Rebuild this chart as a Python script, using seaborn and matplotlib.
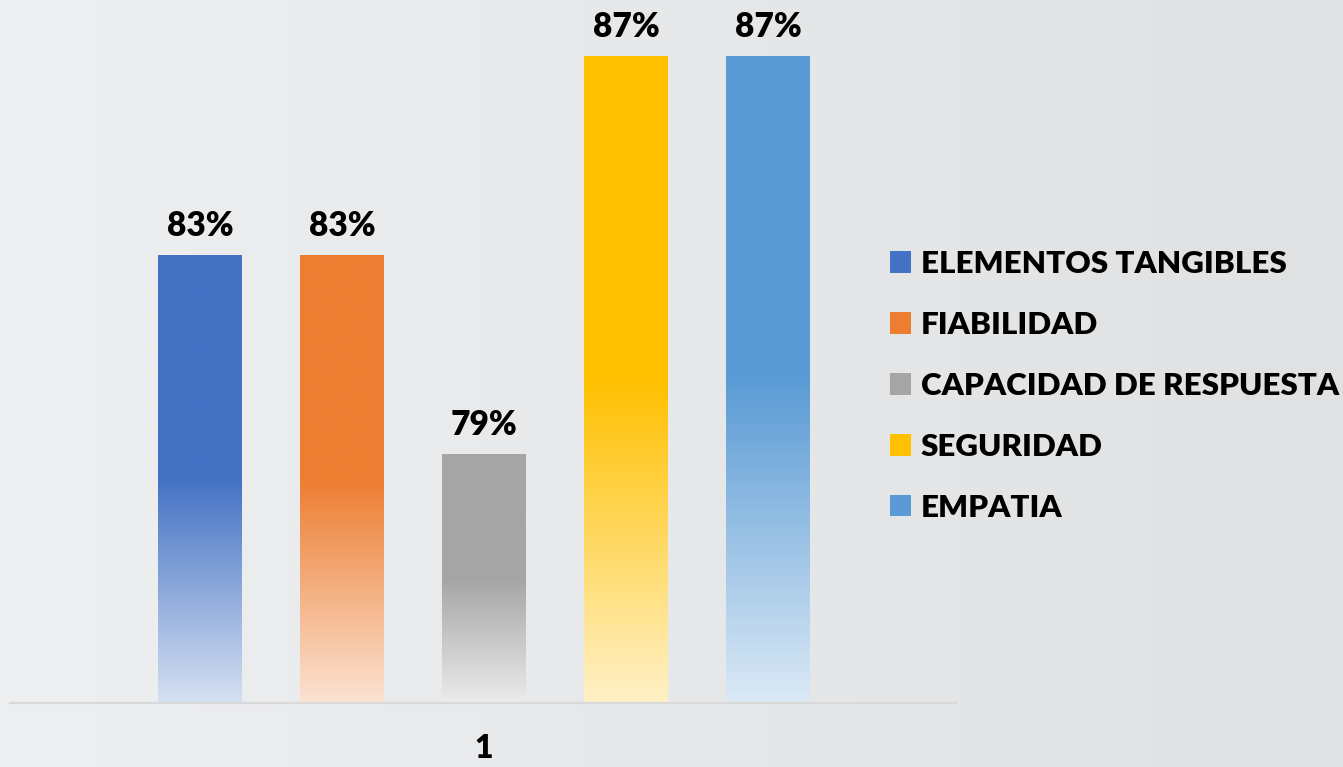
import numpy as np
import pandas as pd
import matplotlib
matplotlib.use("Agg")
import matplotlib.pyplot as plt
from matplotlib.colors import to_rgb
from matplotlib.patches import Patch
import seaborn as sns

# datos del grafico
categorias = ["ELEMENTOS TANGIBLES", "FIABILIDAD", "CAPACIDAD DE RESPUESTA", "SEGURIDAD", "EMPATIA"]
valores = [0.83, 0.83, 0.79, 0.87, 0.87]
grupo = ["1"] * 5
colores = ["#4472C4", "#ED7D31", "#A5A5A5", "#FFC000", "#5B9BD5"]

df = pd.DataFrame({"grupo": grupo, "dimension": categorias, "valor": valores})

sns.set_style("white")
plt.rcParams["font.family"] = ["Lato", "DejaVu Sans"]
plt.rcParams["font.weight"] = "heavy"
plt.rcParams["text.color"] = "black"
plt.rcParams["xtick.color"] = "black"

fig = plt.figure(figsize=(13.43, 7.67), dpi=100)

# fondo degradado
bg = fig.add_axes([0, 0, 1, 1], zorder=-1)
izq = np.array([238, 239, 241]) / 255
der = np.array([223, 225, 227]) / 255
t = np.linspace(0, 1, 256)
grad = izq[None, :] * (1 - t[:, None]) + der[None, :] * t[:, None]
bg.imshow(grad[None, :, :], aspect="auto", extent=(0, 1, 0, 1))
bg.axis("off")

ymin = 0.74
ax = fig.add_axes([10 / 1343, 64 / 767, 947 / 1343, 703 / 767])
ax.set_facecolor("none")
sns.barplot(data=df, x="grupo", y="valor", hue="dimension", palette=colores,
            gap=0.41, ax=ax, legend=False, zorder=2)
ax.set_ylim(ymin, ymin + 703 / 4975)
ax.set_xlim(-0.534, 0.533)

# barras con degradado (solido arriba, claro abajo)
for p, c in zip(ax.patches, colores):
    x, w, h = p.get_x(), p.get_width(), p.get_height()
    rgb = np.array(to_rgb(c))
    claro = rgb * 0.22 + 0.78
    n = 200
    s = np.linspace(0, 1, n)  # 0 arriba, 1 abajo
    f = np.clip((s - 0.5) / 0.5, 0, 1)[:, None]
    img = rgb[None, :] * (1 - f) + claro[None, :] * f
    ax.imshow(img[:, None, :], extent=(x, x + w, ymin, h), aspect="auto", zorder=2)
    p.set_visible(False)
    ax.text(x + w / 2, h + 0.0027, f"{h:.0%}", ha="center", va="bottom",
            fontsize=24, fontweight="heavy", color="black")

ax.set_xlabel("")
ax.set_ylabel("")
ax.set_yticks([])
for s in ["top", "right", "left"]:
    ax.spines[s].set_visible(False)
ax.spines["bottom"].set_color("#D9D9D9")
ax.spines["bottom"].set_linewidth(1.6)
ax.tick_params(axis="x", length=0, pad=22, labelsize=23, labelcolor="black")
for lbl in ax.get_xticklabels():
    lbl.set_fontweight("heavy")

handles = [Patch(facecolor=c, edgecolor="none") for c in colores]
fig.legend(handles, categorias, loc="center left", bbox_to_anchor=(890 / 1343, 0.497),
           frameon=False, handlelength=0.68, handleheight=0.68,
           handletextpad=0.3, labelspacing=1.05, borderpad=0, borderaxespad=0,
           labelcolor="black", prop={"weight": "heavy", "size": 22.6})

fig.savefig("out.png", dpi=100)
